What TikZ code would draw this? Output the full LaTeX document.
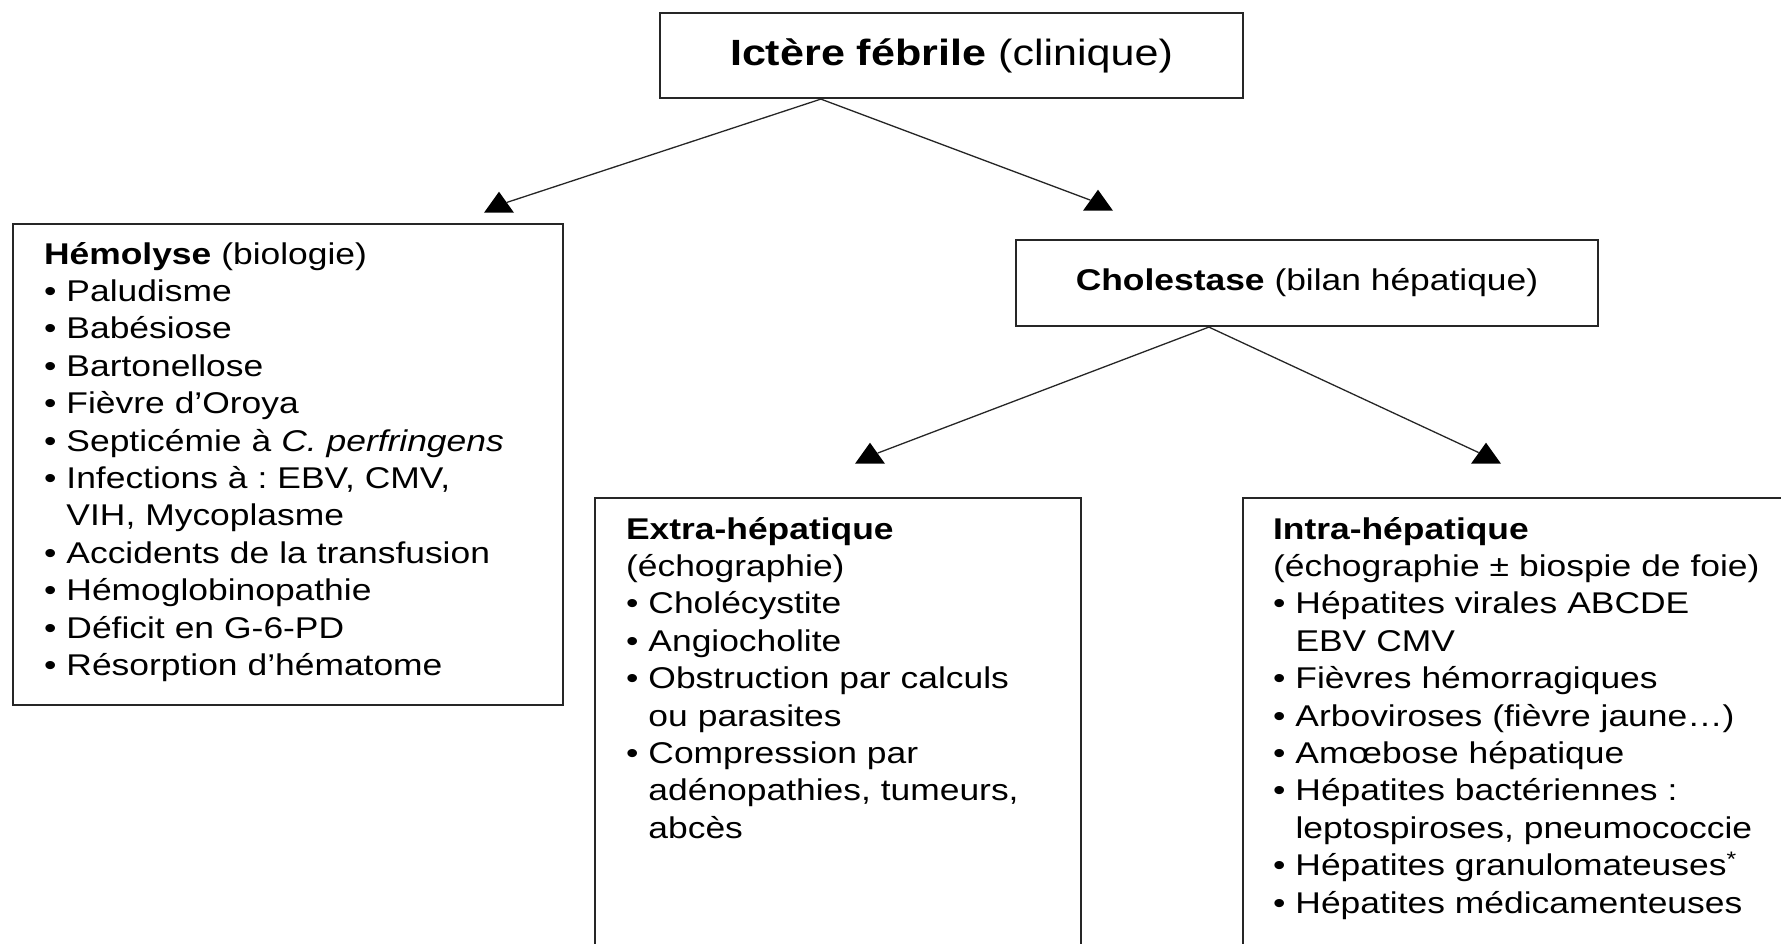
\documentclass[tikz,border=0pt]{standalone}
\usepackage{fontspec}
\setmainfont{Liberation Sans}[FakeStretch=1.18]
\frenchspacing
\usetikzlibrary{shapes.geometric}

\begin{document}
\begin{tikzpicture}
[x=1pt,y=-1pt,
 box/.style={draw=black!85, line width=2.2pt, inner sep=0pt, fill=white},
 listbox/.style={box, anchor=north west, align=left, inner xsep=31pt, font=\fontsize{30}{37.4}\selectfont},
 tri/.style={isosceles triangle, isosceles triangle stretches, shape border rotate=90, fill=black, inner sep=0pt, minimum width=30pt, minimum height=21pt},
 link/.style={draw=black!85, line width=1.3pt}]
\useasboundingbox (0,0) rectangle (1781,944);
\clip (0,0) rectangle (1781,944);
\node[box, minimum width=583, minimum height=85, font=\fontsize{36.5}{44}\selectfont] (ictere) at (951.5,55.5) {\textbf{Ictère fébrile} (clinique)};
\node[box, minimum width=582, minimum height=86, font=\fontsize{30}{37.4}\selectfont] (cholestase) at (1307,283) {\textbf{Cholestase} (bilan hépatique)};
\node[listbox, text width=488, text height=40, text depth=441] (hemolyse) at (12,223) {\textbf{Hémolyse} (biologie)\\
• Paludisme\\
• Babésiose\\
• Bartonellose\\
• Fièvre d’Oroya\\
• Septicémie à \textit{C. perfringens}\\
• Infections à : EBV, CMV,\\
\hphantom{• }VIH, Mycoplasme\\
• Accidents de la transfusion\\
• Hémoglobinopathie\\
• Déficit en G-6-PD\\
• Résorption d’hématome};
\node[listbox, text width=424, text height=41, text depth=500] (extra) at (594,497) {\textbf{Extra-hépatique}\\
(échographie)\\
• Cholécystite\\
• Angiocholite\\
• Obstruction par calculs\\
\hphantom{• }ou parasites\\
• Compression par\\
\hphantom{• }adénopathies, tumeurs,\\
\hphantom{• }abcès};
\node[listbox, inner xsep=30pt, text width=540, text height=41, text depth=500] (intra) at (1242,497) {\textbf{Intra-hépatique}\\
(échographie ± biospie de foie)\\
• Hépatites virales ABCDE\\
\hphantom{• }EBV CMV\\
• Fièvres hémorragiques\\
• Arboviroses (fièvre jaune…)\\
• Amœbose hépatique\\
• Hépatites bactériennes :\\
\hphantom{• }leptospiroses, pneumococcie\\
• Hépatites granulomateuses\textsuperscript{*}\\
• Hépatites médicamenteuses};
\coordinate (ictfoot) at ([xshift=162pt]ictere.south west);
\coordinate (cholfoot) at ([xshift=194pt]cholestase.south west);
\node[tri] (hemtip) at (499,205) {};
\node[tri] (choltip) at (1098,203) {};
\node[tri] (extratip) at (870,456) {};
\node[tri] (intratip) at (1486,456) {};
\draw[link] (ictfoot) -- (hemtip);
\draw[link] (ictfoot) -- (choltip);
\draw[link] (cholfoot) -- (extratip);
\draw[link] (cholfoot) -- (intratip);
\end{tikzpicture}
\end{document}
